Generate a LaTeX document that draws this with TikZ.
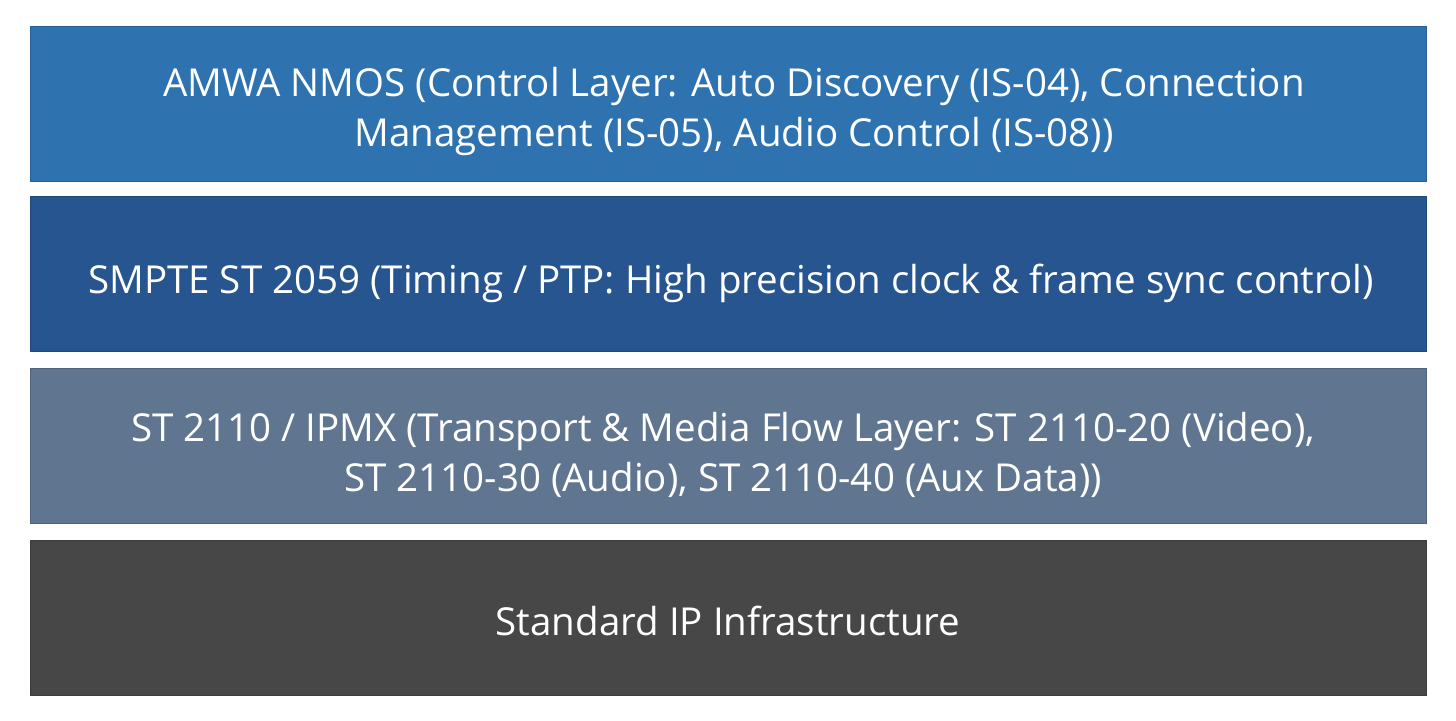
\documentclass[tikz,border=0pt]{standalone}
\usepackage{fontspec}
\setmainfont{Open Sans}
\definecolor{c1}{HTML}{2E72B0}
\definecolor{c2}{HTML}{27558F}
\definecolor{c3}{HTML}{5F7590}
\definecolor{c4}{HTML}{474747}
\begin{document}
\begin{tikzpicture}[x=1pt,y=-1pt,
  layer/.style={draw=#1!85!black, line width=0.8pt, fill=#1, minimum width=1396pt, minimum height=155pt, inner sep=0pt},
  label text/.style={text=white, align=center, inner sep=0pt, font=\fontsize{38.5}{50}\selectfont}]
\useasboundingbox (0,0) rectangle (1456,720);
\node[layer=c1] (nmos) at (728,103.5) {};
\node[layer=c2] (ptp) at (728,274) {};
\node[layer=c3] (st) at (728,445.5) {};
\node[layer=c4] (ip) at (728,618) {};
\node[label text] (nmos-t) at ([xshift=6pt,yshift=-8pt]nmos.center) {AMWA NMOS (Control Layer: Auto Discovery (IS-04), Connection\\Management (IS-05), Audio Control (IS-08))};
\node[label text] (ptp-t) at ([xshift=3pt,yshift=-9pt]ptp.center) {SMPTE ST 2059 (Timing / PTP: High precision clock \& frame sync control)};
\node[label text] (st-t) at ([xshift=-5pt,yshift=-9pt]st.center) {ST 2110 / IPMX (Transport \& Media Flow Layer: ST 2110-20 (Video),\\ST 2110-30 (Audio), ST 2110-40 (Aux Data))};
\node[label text] (ip-t) at ([yshift=-3pt]ip.center) {Standard IP Infrastructure};
\end{tikzpicture}
\end{document}
